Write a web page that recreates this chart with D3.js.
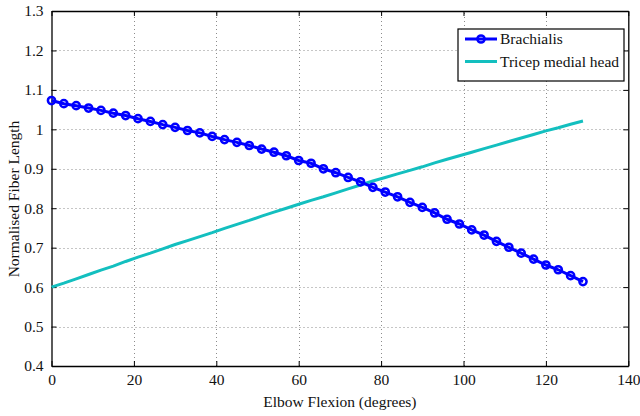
<!DOCTYPE html>
<html>
<head>
  <meta charset="UTF-8">
  <style>
    body { margin: 0; background: #fff; }
  </style>
</head>
<body>
<svg></svg>
<script src="https://d3js.org/d3.v7.min.js"></script>
<script>

let width = 640, height = 416;
let font = "Liberation Serif";

// Data
let angles = [0, 3, 6, 9, 12, 15, 18, 21, 24, 27, 30, 33, 36, 39, 42, 45, 48, 51, 54, 57, 60,
    63, 66, 69, 72, 75, 78, 81, 84, 87, 90, 93, 96, 99, 102, 105, 108, 111, 114, 117, 120, 123, 126, 129];
let brachialis = [1.073, 1.065, 1.060, 1.054, 1.048, 1.041, 1.035, 1.027, 1.020, 1.012, 1.005,
    0.997, 0.991, 0.982, 0.974, 0.967, 0.959, 0.950, 0.942, 0.933, 0.921, 0.914, 0.900, 0.890,
    0.878, 0.867, 0.853, 0.841, 0.829, 0.815, 0.802, 0.788, 0.772, 0.760, 0.745, 0.732, 0.716,
    0.701, 0.686, 0.671, 0.656, 0.644, 0.629, 0.614];
let tricep = [0.600, 0.610, 0.621, 0.632, 0.643, 0.653, 0.665, 0.676, 0.686, 0.697, 0.708,
    0.718, 0.728, 0.738, 0.749, 0.759, 0.769, 0.780, 0.790, 0.800, 0.810, 0.820, 0.829, 0.839,
    0.849, 0.859, 0.869, 0.878, 0.887, 0.896, 0.905, 0.915, 0.924, 0.933, 0.942, 0.951, 0.960,
    0.969, 0.978, 0.987, 0.996, 1.004, 1.013, 1.021];
let xTicks = [0, 20, 40, 60, 80, 100, 120, 140];
let yTicks = [0.4, 0.5, 0.6, 0.7, 0.8, 0.9, 1, 1.1, 1.2, 1.3];
let seriesNames = ["Brachialis", "Tricep medial head"];

let margin = {left: 51.5, right: 11.7, top: 11, bottom: 50};

let svg = d3.select("svg")
    .attr("width", width)
    .attr("height", height)

let x = d3.scaleLinear().domain([0, 140]).range([margin.left, width - margin.right]);
let y = d3.scaleLinear().domain([0.4, 1.3]).range([height - margin.bottom, margin.top]);

// dotted grid
let grid = svg.append("g").attr("stroke", "#8c8c8c").attr("stroke-width", 1).attr("stroke-dasharray", "1,3");
grid.selectAll(".gx").data(xTicks.slice(1, -1)).enter().append("line")
    .attr("x1", d => Math.round(x(d)) + 0.5).attr("x2", d => Math.round(x(d)) + 0.5)
    .attr("y1", y(0.4)).attr("y2", y(1.3))
grid.selectAll(".gy").data(yTicks.slice(1, -1)).enter().append("line")
    .attr("y1", d => Math.round(y(d)) + 0.5).attr("y2", d => Math.round(y(d)) + 0.5)
    .attr("x1", x(0)).attr("x2", x(140))

// axes (MATLAB box style, inward ticks)
let fmt = d => d3.format("")(+d.toFixed(1));
let axB = svg.append("g").attr("transform", `translate(0,${y(0.4)})`)
    .call(d3.axisBottom(x).tickValues(xTicks).tickSizeInner(-5).tickSizeOuter(0).tickPadding(8));
let axT = svg.append("g").attr("transform", `translate(0,${y(1.3)})`)
    .call(d3.axisTop(x).tickValues(xTicks).tickSizeInner(-5).tickSizeOuter(0).tickFormat(""));
let axL = svg.append("g").attr("transform", `translate(${x(0)},0)`)
    .call(d3.axisLeft(y).tickValues(yTicks).tickSizeInner(-5).tickSizeOuter(0).tickPadding(8).tickFormat(fmt));
let axR = svg.append("g").attr("transform", `translate(${x(140)},0)`)
    .call(d3.axisRight(y).tickValues(yTicks).tickSizeInner(-5).tickSizeOuter(0).tickFormat(""));

[axB, axT, axL, axR].forEach(a => {
    a.attr("font-family", font);
    a.select(".domain").attr("stroke", "#000").attr("stroke-width", 1.3);
    a.selectAll(".tick line").attr("stroke", "#000");
    a.selectAll("text").attr("font-family", font).attr("font-size", 15.5).attr("fill", "#111");
});

// series
let line = d3.line().x((d, i) => x(angles[i])).y(d => y(d));

svg.append("path").datum(tricep)
    .attr("fill", "none").attr("stroke", "#13bfbf").attr("stroke-width", 3)
    .attr("d", line)

svg.append("path").datum(brachialis)
    .attr("fill", "none").attr("stroke", "#0000ff").attr("stroke-width", 3)
    .attr("d", line)

svg.append("g").selectAll("circle").data(brachialis).enter().append("circle")
    .attr("cx", (d, i) => x(angles[i]))
    .attr("cy", d => y(d))
    .attr("r", 3.6)
    .attr("fill", "none")
    .attr("stroke", "#0000ff")
    .attr("stroke-width", 2.5)

// axis titles
svg.append("text")
    .attr("x", (x(0) + x(140)) / 2).attr("y", 407)
    .attr("text-anchor", "middle").attr("font-family", font).attr("font-size", 15.5).attr("fill", "#111")
    .text("Elbow Flexion (degrees)")

svg.append("text")
    .attr("transform", "translate(19,199) rotate(-90)")
    .attr("text-anchor", "middle").attr("font-family", font).attr("font-size", 15.5).attr("fill", "#111")
    .text("Normalised Fiber Length")

// legend
let legend = svg.append("g").attr("transform", "translate(458,29)");
legend.append("rect").attr("width", 166).attr("height", 52)
    .attr("fill", "#fff").attr("stroke", "#000").attr("stroke-width", 1.2)
legend.append("line").attr("x1", 7).attr("x2", 39).attr("y1", 10).attr("y2", 10)
    .attr("stroke", "#0000ff").attr("stroke-width", 3)
legend.append("circle").attr("cx", 23).attr("cy", 10).attr("r", 3.6)
    .attr("fill", "none").attr("stroke", "#0000ff").attr("stroke-width", 2.5)
legend.append("line").attr("x1", 7).attr("x2", 39).attr("y1", 32.5).attr("y2", 32.5)
    .attr("stroke", "#13bfbf").attr("stroke-width", 3)
legend.selectAll(".lt").data(seriesNames).enter().append("text")
    .attr("x", 42).attr("y", (d, i) => 15 + i * 22.5)
    .attr("font-family", font).attr("font-size", 15.5).attr("fill", "#111")
    .text(d => d)

</script>
</body>
</html>
